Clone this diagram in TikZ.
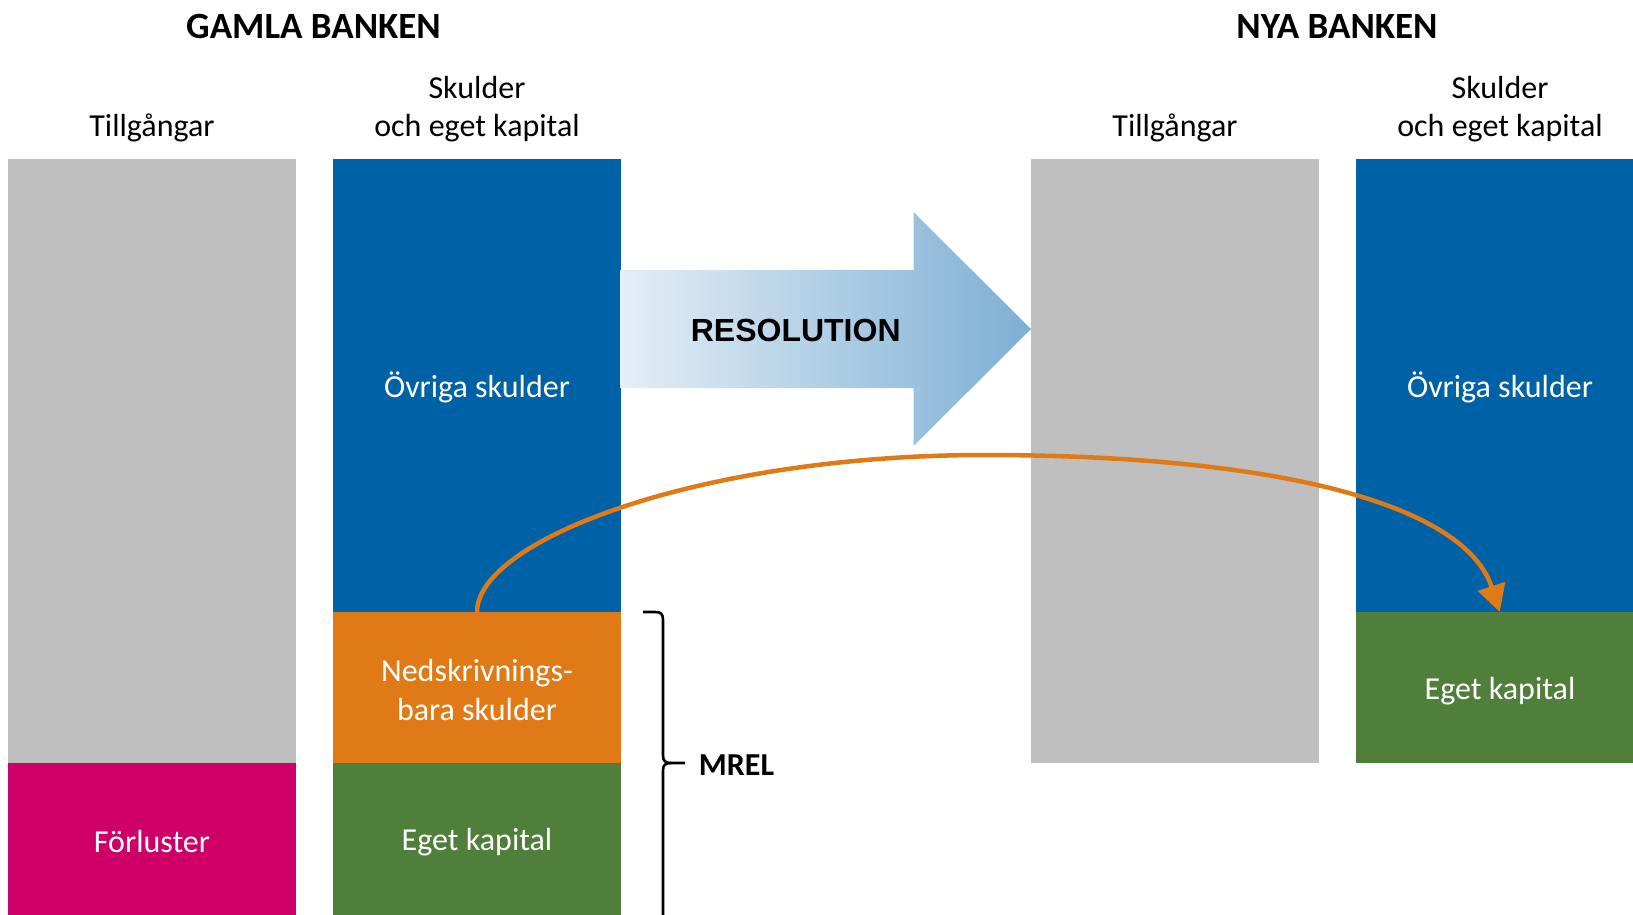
\documentclass[tikz,border=0pt]{standalone}
\usepackage{fontspec}
\setmainfont{Carlito}
\newfontfamily\arialfont{Liberation Sans}
\usetikzlibrary{arrows.meta}
\definecolor{cgray}{HTML}{BFBFBF}
\definecolor{cblue}{HTML}{0062A6}
\definecolor{corange}{HTML}{E07A17}
\definecolor{cgreen}{HTML}{507F3B}
\definecolor{cpink}{HTML}{CE0068}
\definecolor{alight}{HTML}{E4EEF7}
\definecolor{adark}{HTML}{7DAFD4}
\begin{document}
\begin{tikzpicture}[x=1pt,y=-1pt,
  block/.style={anchor=north west, inner sep=0pt, outer sep=0pt, draw=none, minimum width=287.5pt},
  blocktext/.style={text=white, font=\fontsize{32}{38.5}\selectfont, align=center, inner sep=0pt},
  head/.style={font=\fontsize{32}{38.5}\selectfont, align=center, inner sep=0pt},
  title/.style={font=\bfseries\fontsize{37}{44}\selectfont, inner sep=0pt},
  flow/.style={draw=corange, line width=4.5pt, -{Triangle[length=27pt,width=28pt]}},
  bracestyle/.style={draw=black, line width=2.6pt, line join=round}
]
\clip (0,0) rectangle (1633,914);
\fill[white] (0,0) rectangle (1633,914);

% old bank
\node[block, fill=cgray, minimum height=604.1pt] (g1) at (8.3,159.3) {};
\node[block, fill=cpink, minimum height=160pt] (loss) at (8.3,763.4) {};
\node[block, fill=cblue, minimum height=452.7pt] (b1) at (333.3,159.3) {};
\node[block, fill=corange, minimum height=151.4pt] (ned) at (333.3,612) {};
\node[block, fill=cgreen, minimum height=160pt] (eq1) at (333.3,763.4) {};

% new bank
\node[block, fill=cgray, minimum height=604.1pt] (g2) at (1031,159.3) {};
\node[block, fill=cblue, minimum height=452.7pt] (b2) at (1356,159.3) {};
\node[block, fill=cgreen, minimum height=151.4pt] (eq2) at (1356,612) {};

% resolution arrow
\shade[left color=alight, right color=adark]
  (620.7,270) -- (913.5,270) -- (913.5,212) -- (1031,329) -- (913.5,446)
  -- (913.5,388) -- (620.7,388) -- cycle;
\node[font=\arialfont\bfseries\fontsize{32}{38}\selectfont, inner sep=0pt] (res) at (795.7,330) {RESOLUTION};

% titles and headers
\node[title] (t1) at (313.5,26) {GAMLA BANKEN};
\node[title] (t2) at (1337,26) {NYA BANKEN};
\node[head] (h1) at (152,128) {Tillgångar};
\node[head] (h2) at (477,109) {Skulder\\och eget kapital};
\node[head] (h3) at (1175,128) {Tillgångar};
\node[head] (h4) at (1500,109) {Skulder\\och eget kapital};

% block labels
\node[blocktext] (l1) at (477,387.5) {Övriga skulder};
\node[blocktext] (l2) at (477,690) {Nedskrivnings-\\bara skulder};
\node[blocktext] (l3) at (477,842.5) {Eget kapital};
\node[blocktext] (l4) at (152,841) {Förluster};
\node[blocktext] (l5) at (1500,387.5) {Övriga skulder};
\node[blocktext] (l6) at (1500,691.5) {Eget kapital};

% brace and MREL
\coordinate (brtop) at (643,612);
\coordinate (brtip) at (685,763);
\draw[bracestyle] (brtop) -- (655,612) .. controls (661,612) and (663,614) .. (663,620)
  -- (663,755) .. controls (663,761) and (665,763) .. (671,763) -- (brtip);
\draw[bracestyle] (671,763) .. controls (665,763) and (663,765) .. (663,771) -- (663,920);
\node[font=\bfseries\fontsize{32}{38}\selectfont, inner sep=0pt] (mrel) at (736.5,765) {MREL};

% orange transfer curve
\draw[flow] (ned.north) .. controls +(0,-72) and (700,455) .. (984,455)
  .. controls (1280,455) and (1465,505) .. (eq2.north);
\end{tikzpicture}
\end{document}
